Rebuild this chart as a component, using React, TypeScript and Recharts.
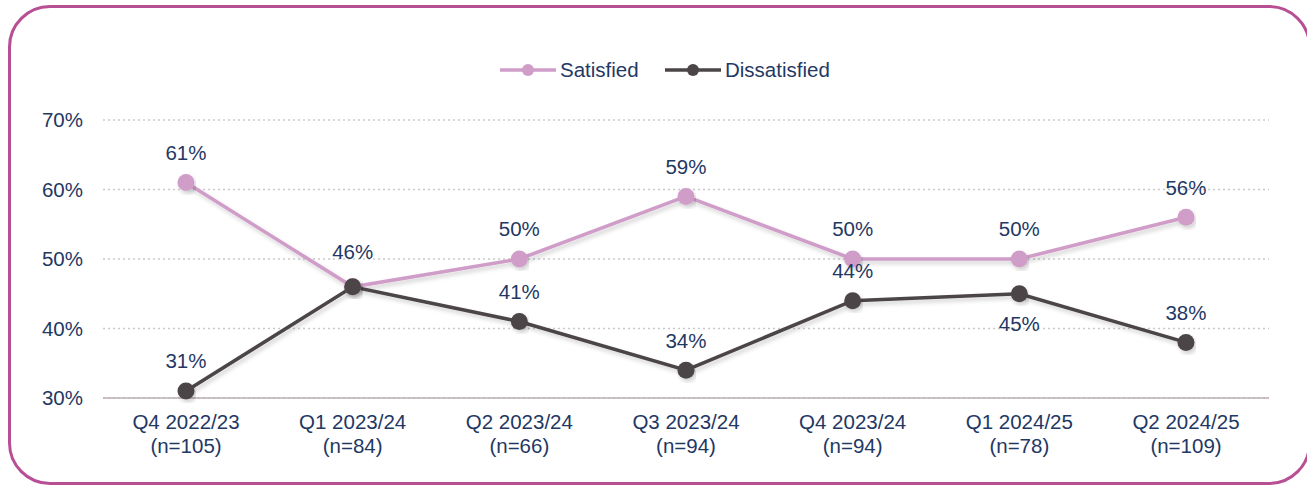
import { LineChart, Line, XAxis, YAxis, CartesianGrid, Legend } from "recharts";

const quarters = ["Q4 2022/23", "Q1 2023/24", "Q2 2023/24", "Q3 2023/24", "Q4 2023/24", "Q1 2024/25", "Q2 2024/25"];
const sampleSizes = ["(n=105)", "(n=84)", "(n=66)", "(n=94)", "(n=94)", "(n=78)", "(n=109)"];
const satisfied = [61, 46, 50, 59, 50, 50, 56];
const dissatisfied = [31, 46, 41, 34, 44, 45, 38];
const yTicks = [30, 40, 50, 60, 70];

const PINK = "#cf9dc8";
const DARK = "#4b4547";
const TEXT = "#1f3864";
const FONT = "'Liberation Sans', Arial, sans-serif";
const FS = 20.5;

const data = quarters.map((q, i) => ({
  quarter: q,
  n: sampleSizes[i],
  satisfied: satisfied[i],
  dissatisfied: dissatisfied[i],
}));

function XTick({ x, y, payload, index }: any) {
  return (
    <text x={x} y={y} textAnchor="middle" fill={TEXT} fontSize={FS} fontFamily={FONT}>
      <tspan x={x} dy={23}>{payload.value}</tspan>
      <tspan x={x} dy={24}>{sampleSizes[index]}</tspan>
    </text>
  );
}

// satisfied labels all sit above; the shared 46% point is a bit higher
function SatLabel({ x, y, value, index }: any) {
  const off = index === 1 ? 35 : 30;
  return (
    <text x={x} y={y - off} dy="0.36em" textAnchor="middle" fill={TEXT} fontSize={FS} fontFamily={FONT}>
      {value}%
    </text>
  );
}

function DisLabel({ x, y, value, index }: any) {
  if (index === 1) return null;
  const off = index === 5 ? -30 : 30;
  return (
    <text x={x} y={y - off} dy="0.36em" textAnchor="middle" fill={TEXT} fontSize={FS} fontFamily={FONT}>
      {value}%
    </text>
  );
}

function LegendBox() {
  const item = (color: string, label: string, x0: number) => (
    <g>
      <line x1={x0} x2={x0 + 56} y1={12} y2={12} stroke={color} strokeWidth={3.5} />
      <circle cx={x0 + 28} cy={12} r={6} fill={color} />
      <text x={x0 + 60} y={12} dy="0.36em" fill={TEXT} fontSize={FS} fontFamily={FONT}>
        {label}
      </text>
    </g>
  );
  return (
    <svg width={1307} height={26} style={{ display: "block" }}>
      {item(PINK, "Satisfied", 500)}
      {item(DARK, "Dissatisfied", 665)}
    </svg>
  );
}

export default function App() {
  return (
    <div style={{ position: "absolute", left: 0, top: 0, width: 1307, height: 486, overflow: "hidden", background: "#fff" }}>
      <div
        style={{
          position: "absolute",
          left: 8,
          top: 5,
          width: 1303,
          height: 480,
          boxSizing: "border-box",
          border: "3.5px solid #b84f95",
          borderRadius: 42,
        }}
      />
      <div style={{ position: "absolute", left: 0, top: 0 }}>
        <LineChart width={1307} height={486} data={data} margin={{ top: 120, right: 38, bottom: 0, left: 0 }}>
          <defs>
            <filter id="lineShadow" x="-5%" y="-20%" width="110%" height="140%">
              <feDropShadow dx="2" dy="3" stdDeviation="2" floodColor="#000" floodOpacity="0.18" />
            </filter>
          </defs>
          <CartesianGrid vertical={false} stroke="#c9c9c9" strokeDasharray="2 3" strokeWidth={1.5} />
          <XAxis
            dataKey="quarter"
            axisLine={{ stroke: "#bcaeb5", strokeWidth: 1.5 }}
            tickLine={false}
            tick={<XTick />}
            interval={0}
            height={88}
            padding={{ left: 83, right: 83 }}
          />
          <YAxis
            domain={[30, 70]}
            ticks={yTicks}
            tickFormatter={(v) => `${v}%`}
            axisLine={false}
            tickLine={false}
            tickSize={0}
            tickMargin={20}
            width={103}
            tick={{ fill: TEXT, fontSize: FS, fontFamily: FONT }}
          />
          <Legend
            verticalAlign="middle"
            align="center"
            content={<LegendBox />}
            wrapperStyle={{ top: 58, left: 0, width: 1307 }}
          />
          <Line
            dataKey="satisfied"
            name="Satisfied"
            stroke={PINK}
            strokeWidth={3.5}
            filter="url(#lineShadow)"
            dot={{ r: 8.5, fill: PINK, stroke: PINK, strokeWidth: 0 }}
            activeDot={false}
            label={<SatLabel />}
            isAnimationActive={false}
          />
          <Line
            dataKey="dissatisfied"
            name="Dissatisfied"
            stroke={DARK}
            strokeWidth={3.5}
            filter="url(#lineShadow)"
            dot={{ r: 8.5, fill: DARK, stroke: DARK, strokeWidth: 0 }}
            activeDot={false}
            label={<DisLabel />}
            isAnimationActive={false}
          />
        </LineChart>
      </div>
    </div>
  );
}
